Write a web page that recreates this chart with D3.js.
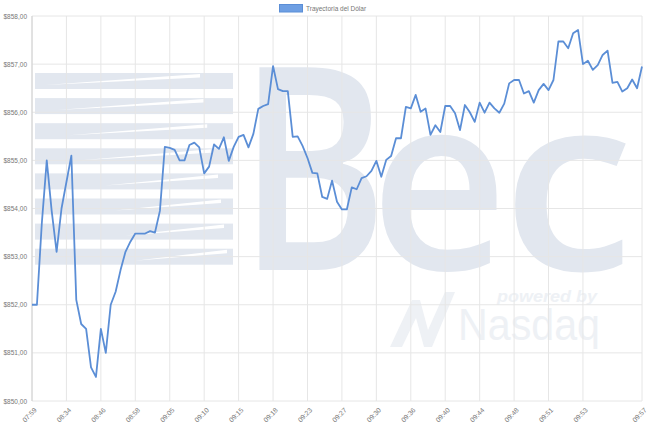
<!DOCTYPE html>
<html>
<head>
<meta charset="utf-8">
<script src="https://cdnjs.cloudflare.com/ajax/libs/d3/7.8.5/d3.min.js"></script>
<style>
  body { margin: 0; background: #fff; }
  svg { display: block; font-family: "Liberation Sans", Arial, sans-serif; }
</style>
</head>
<body>
<svg id="chart" width="650" height="434"></svg>
<script>
// Dollar price, one value per quote (category axis)
var values = [
  852.00, 852.00, 853.70, 855.00, 853.95, 853.10, 854.00, 854.55, 855.10, 852.10,
  851.60, 851.50, 850.70, 850.50, 851.50, 851.00, 852.00, 852.27, 852.72, 853.10,
  853.31, 853.48, 853.48, 853.48, 853.53, 853.50, 853.95, 855.28, 855.26, 855.22,
  855.00, 855.00, 855.32, 855.37, 855.27, 854.73, 854.87, 855.33, 855.24, 855.48,
  854.99, 855.28, 855.49, 855.53, 855.27, 855.55, 856.07, 856.13, 856.17, 856.96,
  856.48, 856.44, 856.44, 855.49, 855.50, 855.30, 855.05, 854.74, 854.73, 854.24,
  854.20, 854.58, 854.14, 853.98, 853.98, 854.44, 854.40, 854.63, 854.67, 854.78,
  854.99, 854.66, 855.01, 855.09, 855.46, 855.46, 856.11, 856.08, 856.36, 856.01,
  856.08, 855.53, 855.73, 855.59, 856.13, 856.13, 855.98, 855.63, 856.15, 856.00,
  855.80, 856.20, 855.99, 856.20, 856.08, 855.99, 856.18, 856.60, 856.67, 856.67,
  856.39, 856.44, 856.20, 856.46, 856.59, 856.46, 856.67, 857.47, 857.47, 857.33,
  857.64, 857.71, 857.00, 857.07, 856.88, 856.98, 857.19, 857.28, 856.61, 856.63,
  856.43, 856.50, 856.68, 856.50, 856.95
];

// visible x tick labels and the quote they sit on
var tickIndex = [0, 7, 14, 21, 28, 35, 42, 49, 56, 63, 70, 77, 84, 91, 98, 105, 112, 124];
var tickLabels = ["07:59", "08:34", "08:46", "08:58", "09:05", "09:10", "09:15", "09:18", "09:23",
                  "09:27", "09:30", "09:36", "09:40", "09:44", "09:48", "09:51", "09:53", "09:57"];

var yTicks = [850, 851, 852, 853, 854, 855, 856, 857, 858];
var seriesName = "Trayectoria del Dólar";

var lineColor = "#5b8ed6";
var gridColor = "#e6e6e6";
var textColor = "#777";

var margin = { top: 16, right: 8, bottom: 33, left: 32 },
    width = 650 - margin.left - margin.right,
    height = 434 - margin.top - margin.bottom;

var svg = d3.select("#chart");

var x = d3.scaleLinear()
    .domain([0, values.length - 1])
    .range([margin.left, margin.left + width]);

var y = d3.scaleLinear()
    .domain([850, 858])
    .range([margin.top + height, margin.top]);

// ---- watermark (background logo) ----
var wm = svg.append("g").attr("class", "watermark");
var wmColor = "#e2e7ef";
var wmLight = "#eef1f5";

// striped flag on the left
var stripeTop = 73, stripeH = 16, stripeGap = 25.1;
for (var r = 0; r < 8; r++) {
    var y0 = stripeTop + r * stripeGap;
    wm.append("rect")
        .attr("x", 35).attr("y", y0)
        .attr("width", 198).attr("height", stripeH)
        .attr("fill", wmColor);
    var off = r < 4 ? r * 12 : 60 + (r - 4) * 10;
    // white streak through each stripe
    wm.append("polygon")
        .attr("points", [
            [45 + off, y0 + stripeH * 0.75], [200 + off * 0.3, y0 + 1], [200 + off * 0.3, y0 + 4.5]
        ].join(" "))
        .attr("fill", "#fff");
}

// the big "Bec" letters, one by one so each fills its own box
var letters = [
    { ch: "B", cx: 313, sx: 0.80, sy: 1.00 },
    { ch: "e", cx: 439, sx: 0.84, sy: 0.86 },
    { ch: "c", cx: 568, sx: 0.94, sy: 0.86 }
];
letters.forEach(function(l) {
    wm.append("text")
        .attr("transform", "translate(" + l.cx + ",270) scale(" + l.sx + "," + l.sy + ")")
        .attr("text-anchor", "middle")
        .style("font-family", "'Open Sans', 'Liberation Sans', sans-serif")
        .style("font-size", "284px")
        .style("font-weight", 600)
        .attr("fill", wmColor)
        .text(l.ch);
});

wm.append("text")
    .attr("x", 497).attr("y", 302)
    .attr("textLength", 100)
    .attr("lengthAdjust", "spacingAndGlyphs")
    .style("font-size", "17px")
    .style("font-weight", "bold")
    .style("font-style", "italic")
    .attr("fill", wmLight)
    .text("powered by");

wm.append("text")
    .attr("x", 458).attr("y", 340)
    .attr("textLength", 142)
    .attr("lengthAdjust", "spacingAndGlyphs")
    .style("font-size", "44px")
    .attr("fill", wmLight)
    .text("Nasdaq");

wm.append("polygon")
    .attr("points", "390,347 412,300 420,300 428,330 445,292 455,292 432,347 424,347 416,318 402,347")
    .attr("fill", wmLight);

// ---- grid ----
svg.append("g")
    .selectAll("line.hgrid")
    .data(yTicks)
    .enter().append("line")
    .attr("class", "hgrid")
    .attr("x1", margin.left).attr("x2", margin.left + width)
    .attr("y1", function(d) { return y(d); })
    .attr("y2", function(d) { return y(d); })
    .attr("stroke", gridColor)
    .attr("stroke-width", 1);

svg.append("g")
    .selectAll("line.vgrid")
    .data(tickIndex)
    .enter().append("line")
    .attr("class", "vgrid")
    .attr("x1", function(d) { return x(d); })
    .attr("x2", function(d) { return x(d); })
    .attr("y1", margin.top).attr("y2", margin.top + height)
    .attr("stroke", gridColor)
    .attr("stroke-width", 1);

// left axis line
svg.append("line")
    .attr("x1", margin.left).attr("x2", margin.left)
    .attr("y1", margin.top).attr("y2", margin.top + height)
    .attr("stroke", "#d0d0d0");

// ---- axes labels ----
var fmt = d3.format(".2f");
var yAxis = svg.append("g")
    .attr("transform", "translate(" + margin.left + ",0)")
    .call(d3.axisLeft(y)
        .tickValues(yTicks)
        .tickSize(0)
        .tickPadding(5)
        .tickFormat(function(d) { return "$" + fmt(d).replace(".", ","); }));
yAxis.select(".domain").remove();
yAxis.selectAll("text")
    .style("font-size", "6.5px")
    .style("font-family", "'Liberation Sans', Arial, sans-serif")
    .attr("fill", textColor);

var xAxis = svg.append("g")
    .attr("transform", "translate(0," + (margin.top + height) + ")")
    .call(d3.axisBottom(x)
        .tickValues(tickIndex)
        .tickSize(0)
        .tickFormat(function(d, i) { return tickLabels[i]; }));
xAxis.select(".domain").remove();
xAxis.selectAll("text")
    .style("font-size", "6.8px")
    .style("font-family", "'Liberation Sans', Arial, sans-serif")
    .style("text-anchor", "end")
    .attr("fill", textColor)
    .attr("y", 0)
    .attr("dy", "0.35em")
    .attr("transform", "translate(3,8) rotate(-45)");

// ---- the series line ----
var line = d3.line()
    .x(function(d, i) { return x(i); })
    .y(function(d) { return y(d); });

svg.append("path")
    .datum(values)
    .attr("d", line)
    .attr("fill", "none")
    .attr("stroke", lineColor)
    .attr("stroke-width", 1.8)
    .attr("stroke-linejoin", "round");

// ---- legend ----
var legend = svg.append("g").attr("class", "legend");
legend.append("rect")
    .attr("x", 279.5).attr("y", 4.5)
    .attr("width", 23).attr("height", 7.5)
    .attr("fill", "#6e9fe3")
    .attr("stroke", lineColor)
    .attr("stroke-width", 1);
legend.append("text")
    .attr("x", 306).attr("y", 10.8)
    .style("font-size", "6.5px")
    .attr("fill", textColor)
    .text(seriesName);
</script>
</body>
</html>
